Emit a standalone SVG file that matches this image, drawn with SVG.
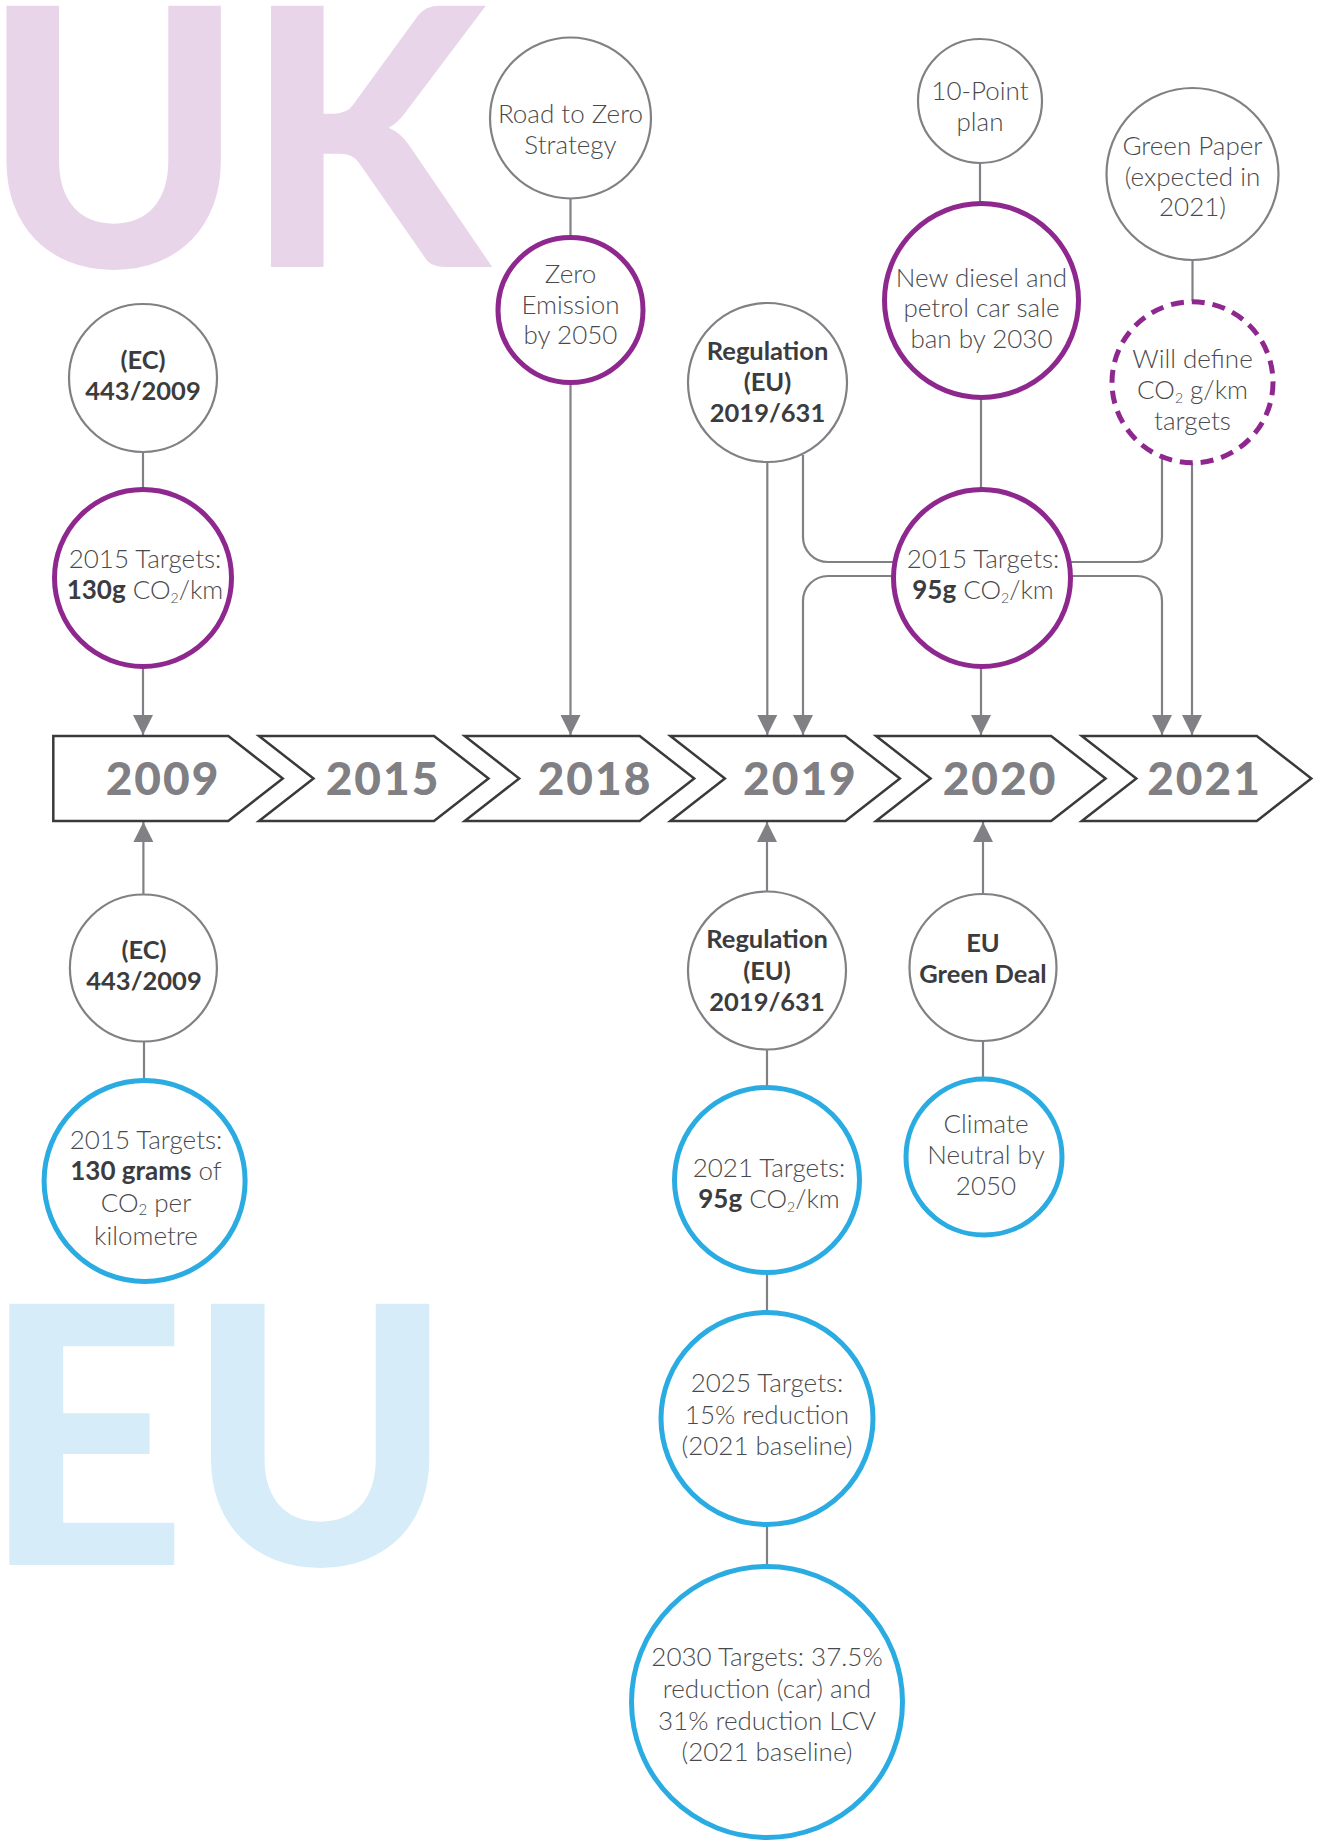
<svg xmlns="http://www.w3.org/2000/svg" width="1319" height="1843" viewBox="0 0 1319 1843">
<style>
.bg{font-family:Lato,'Open Sans',sans-serif;font-weight:900;font-size:360px}
.g{fill:#fff;stroke:#818185;stroke-width:2.2}
.p{fill:#fff;stroke:#8E288F;stroke-width:5}
.pd{fill:#fff;stroke:#8E288F;stroke-width:5;stroke-dasharray:13 8}
.b{fill:#fff;stroke:#2AACE2;stroke-width:5}
.c{fill:none;stroke:#818185;stroke-width:2.2}
.box{fill:#fff;stroke:#3A3A3C;stroke-width:2.5;stroke-linejoin:miter}
.t{font-family:Lato,'Open Sans',sans-serif;font-weight:300;font-size:26px;fill:#4A4A4C;text-anchor:middle}
.tb{font-family:Lato,'Open Sans',sans-serif;font-weight:700;font-size:25.5px;fill:#3C3C3E;text-anchor:middle}
.k{font-weight:700;fill:#3C3C3E}
.yr{font-family:Lato,'Open Sans',sans-serif;font-weight:900;font-size:46px;letter-spacing:2px;fill:#808084;text-anchor:middle}
</style>
<defs>
<marker id="ah" markerUnits="userSpaceOnUse" markerWidth="20" markerHeight="20" viewBox="0 0 20 20" refX="20" refY="10" orient="auto">
<path d="M0,0 L20,10 L0,20 Z" fill="#818185"/>
</marker>
</defs>

<g id="background-labels">
<text class="bg" x="-17" y="267" fill="#E9D5EA" textLength="505" lengthAdjust="spacingAndGlyphs">UK</text>
<text class="bg" x="-17.8" y="1565" fill="#D6EDF9" textLength="471" lengthAdjust="spacingAndGlyphs">EU</text>
</g>

<g id="connectors">
<line class="c" x1="143" y1="452" x2="143" y2="489"/>
<line class="c" x1="143" y1="667" x2="143" y2="735" marker-end="url(#ah)"/>
<line class="c" x1="570.5" y1="199" x2="570.5" y2="237"/>
<line class="c" x1="570.5" y1="383" x2="570.5" y2="735" marker-end="url(#ah)"/>
<line class="c" x1="767.3" y1="462" x2="767.3" y2="735" marker-end="url(#ah)"/>
<path class="c" d="M803,455 V537 A25,25 0 0 0 828,562 H895"/>
<path class="c" d="M894,576 H828 A25,25 0 0 0 803,601 V735" marker-end="url(#ah)"/>
<line class="c" x1="980" y1="163" x2="980" y2="203"/>
<line class="c" x1="981" y1="398" x2="981" y2="491"/>
<line class="c" x1="981" y1="667" x2="981" y2="735" marker-end="url(#ah)"/>
<line class="c" x1="1192.5" y1="260" x2="1192.5" y2="301"/>
<line class="c" x1="1192" y1="463" x2="1192" y2="735" marker-end="url(#ah)"/>
<path class="c" d="M1162,457 V537 A25,25 0 0 1 1137,562 H1069"/>
<path class="c" d="M1070,576 H1137 A25,25 0 0 1 1162,601 V735" marker-end="url(#ah)"/>
<line class="c" x1="143.4" y1="895" x2="143.4" y2="822" marker-end="url(#ah)"/>
<line class="c" x1="144" y1="1041" x2="144" y2="1080"/>
<line class="c" x1="767" y1="892" x2="767" y2="822" marker-end="url(#ah)"/>
<line class="c" x1="767" y1="1049" x2="767" y2="1088"/>
<line class="c" x1="767" y1="1272" x2="767" y2="1313"/>
<line class="c" x1="767" y1="1525" x2="767" y2="1566"/>
<line class="c" x1="983" y1="894" x2="983" y2="822" marker-end="url(#ah)"/>
<line class="c" x1="983" y1="1041" x2="983" y2="1079"/>
</g>

<g id="timeline">
<g id="y2009"><path class="box" d="M53.3,736 H228.3 L282.8,778.5 L228.3,821 H53.3 Z"/><text class="yr" x="163" y="795">2009</text></g>
<g id="y2015"><path class="box" d="M259,736 H434 L488.5,778.5 L434,821 H259 L313.5,778.5 Z"/><text class="yr" x="383" y="795">2015</text></g>
<g id="y2018"><path class="box" d="M464.7,736 H639.7 L694.2,778.5 L639.7,821 H464.7 L519.2,778.5 Z"/><text class="yr" x="595" y="795">2018</text></g>
<g id="y2019"><path class="box" d="M670.4,736 H845.4 L899.9,778.5 L845.4,821 H670.4 L724.9,778.5 Z"/><text class="yr" x="800.4" y="795">2019</text></g>
<g id="y2020"><path class="box" d="M876.1,736 H1051.1 L1105.6,778.5 L1051.1,821 H876.1 L930.6,778.5 Z"/><text class="yr" x="1000" y="795">2020</text></g>
<g id="y2021"><path class="box" d="M1081.8,736 H1256.8 L1311.3,778.5 L1256.8,821 H1081.8 L1136.3,778.5 Z"/><text class="yr" x="1204.5" y="795">2021</text></g>
</g>

<g id="uk-ec-443">
<circle class="g" cx="143" cy="378" r="74"/>
<text class="tb" x="143" y="369">(EC)</text>
<text class="tb" x="143" y="400">443/2009</text>
</g>
<g id="uk-2015-130g">
<circle class="p" cx="143" cy="578" r="88.5"/>
<text class="t" x="145" y="568">2015 Targets:</text>
<text class="t" x="145" y="599"><tspan class="k">130g</tspan> CO<tspan font-size="14" dy="4">2</tspan><tspan dy="-4">/km</tspan></text>
</g>
<g id="uk-road-to-zero">
<circle class="g" cx="570.5" cy="118" r="80.5"/>
<text class="t" x="570.5" y="123">Road to Zero</text>
<text class="t" x="570.5" y="154">Strategy</text>
</g>
<g id="uk-zero-emission">
<circle class="p" cx="570.5" cy="310" r="72.5"/>
<text class="t" x="570.5" y="283">Zero</text>
<text class="t" x="570.5" y="313.5">Emission</text>
<text class="t" x="570.5" y="344">by 2050</text>
</g>
<g id="uk-regulation-eu">
<circle class="g" cx="767.5" cy="382.5" r="79.5"/>
<text class="tb" x="767.5" y="360">Regulation</text>
<text class="tb" x="767.5" y="391">(EU)</text>
<text class="tb" x="767.5" y="422">2019/631</text>
</g>
<g id="uk-10-point">
<circle class="g" cx="980" cy="101" r="62"/>
<text class="t" x="980" y="100">10-Point</text>
<text class="t" x="980" y="131">plan</text>
</g>
<g id="uk-new-diesel">
<circle class="p" cx="981.5" cy="300.5" r="97"/>
<text class="t" x="981.5" y="287">New diesel and</text>
<text class="t" x="981.5" y="317">petrol car sale</text>
<text class="t" x="981.5" y="348">ban by 2030</text>
</g>
<g id="uk-2015-95g">
<circle class="p" cx="982" cy="578" r="88.5"/>
<text class="t" x="983" y="568">2015 Targets:</text>
<text class="t" x="983" y="599"><tspan class="k">95g</tspan> CO<tspan font-size="14" dy="4">2</tspan><tspan dy="-4">/km</tspan></text>
</g>
<g id="uk-green-paper">
<circle class="g" cx="1192.5" cy="174" r="86"/>
<text class="t" x="1192.5" y="155">Green Paper</text>
<text class="t" x="1192.5" y="185.5">(expected in</text>
<text class="t" x="1192.5" y="216">2021)</text>
</g>
<g id="uk-will-define">
<circle class="pd" cx="1192.5" cy="382.3" r="80.5"/>
<text class="t" x="1192.5" y="368">Will define</text>
<text class="t" x="1192.5" y="399">CO<tspan font-size="14" dy="4">2</tspan><tspan dy="-4"> g/km</tspan></text>
<text class="t" x="1192.5" y="430">targets</text>
</g>

<g id="eu-ec-443">
<circle class="g" cx="143.4" cy="968" r="73.5"/>
<text class="tb" x="144" y="959">(EC)</text>
<text class="tb" x="144" y="990">443/2009</text>
</g>
<g id="eu-2015-130grams">
<circle class="b" cx="144.6" cy="1181" r="100.5"/>
<text class="t" x="146" y="1148.5">2015 Targets:</text>
<text class="t" x="146" y="1180"><tspan class="k">130 grams</tspan> of</text>
<text class="t" x="146" y="1212">CO<tspan font-size="15" dy="3">2</tspan><tspan dy="-3"> per</tspan></text>
<text class="t" x="146" y="1244.5">kilometre</text>
</g>
<g id="eu-regulation">
<circle class="g" cx="767" cy="970.5" r="79"/>
<text class="tb" x="767" y="948">Regulation</text>
<text class="tb" x="767" y="979.5">(EU)</text>
<text class="tb" x="767" y="1011">2019/631</text>
</g>
<g id="eu-2021-targets">
<circle class="b" cx="767" cy="1180" r="92.5"/>
<text class="t" x="769" y="1177">2021 Targets:</text>
<text class="t" x="769" y="1208"><tspan class="k">95g</tspan> CO<tspan font-size="14" dy="4">2</tspan><tspan dy="-4">/km</tspan></text>
</g>
<g id="eu-green-deal">
<circle class="g" cx="983" cy="967.5" r="73.5"/>
<text class="tb" x="983" y="952">EU</text>
<text class="tb" x="983" y="983">Green Deal</text>
</g>
<g id="eu-climate-neutral">
<circle class="b" cx="984" cy="1157" r="78"/>
<text class="t" x="986" y="1133">Climate</text>
<text class="t" x="986" y="1163.5">Neutral by</text>
<text class="t" x="986" y="1195">2050</text>
</g>
<g id="eu-2025-targets">
<circle class="b" cx="767" cy="1418.5" r="106"/>
<text class="t" x="767" y="1392">2025 Targets:</text>
<text class="t" x="767" y="1424">15% reduction</text>
<text class="t" x="767" y="1455">(2021 baseline)</text>
</g>
<g id="eu-2030-targets">
<circle class="b" cx="767" cy="1702" r="135.5"/>
<text class="t" x="767" y="1666">2030 Targets: 37.5%</text>
<text class="t" x="767" y="1698">reduction (car) and</text>
<text class="t" x="767" y="1730">31% reduction LCV</text>
<text class="t" x="767" y="1761">(2021 baseline)</text>
</g>
</svg>
